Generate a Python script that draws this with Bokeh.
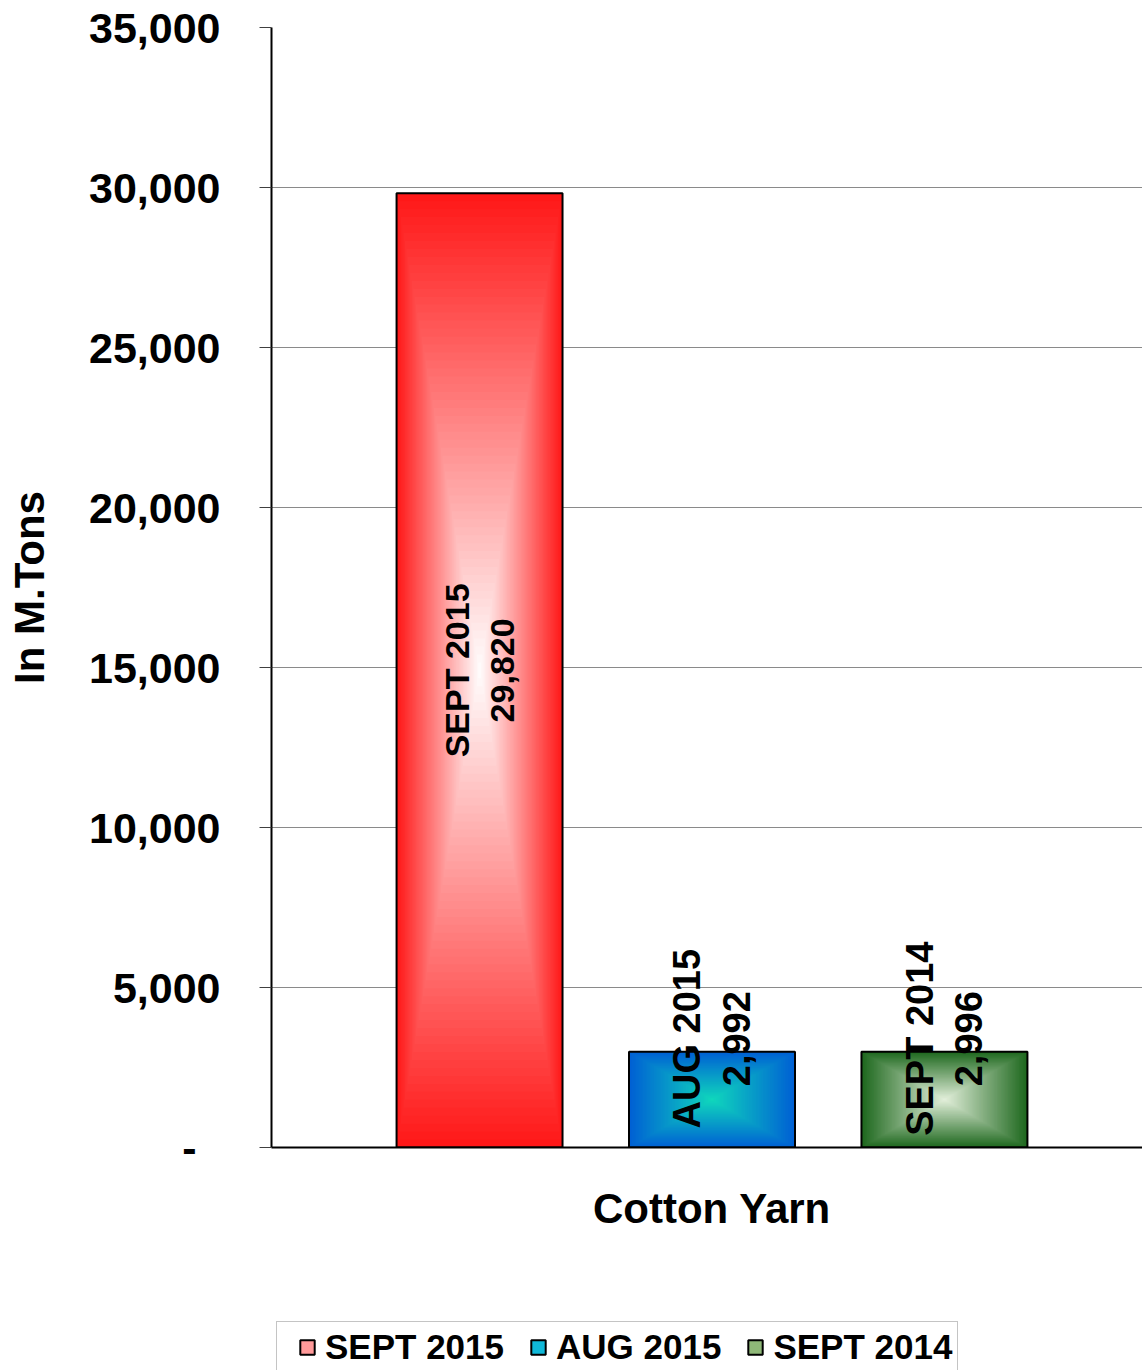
import numpy as np
from bokeh.plotting import figure
from bokeh.layouts import column
from bokeh.models import (Range1d, FixedTicker, NumeralTickFormatter, Legend,
                          LegendItem, ColumnDataSource)
from bokeh.core.properties import value
from bokeh.embed import file_html
from bokeh.resources import INLINE

# ---------------- data ----------------
category = "Cotton Yarn"
series = ["SEPT 2015", "AUG 2015", "SEPT 2014"]
values = [29820, 2992, 2996]
value_labels = ["29,820", "2,992", "2,996"]
y_ticks = [0, 5000, 10000, 15000, 20000, 25000, 30000, 35000]
y_axis_title = "In M.Tons"

# ---------------- style ----------------
edge_colors = [(255, 24, 24), (0, 96, 212), (30, 104, 30)]
center_colors = [(255, 255, 255), (16, 216, 188), (228, 240, 220)]
legend_colors = ["#ff9a9a", "#10b8d8", "#8fb878"]
label_sizes = ["34px", "38px", "38px"]
FONT = "Liberation Sans"
bar_width = 0.714
n_layers = 60

p = figure(width=1142, height=1320, output_backend="svg", toolbar_location=None,
           x_range=Range1d(-1.895, 1.852), y_range=Range1d(0, 35000),
           min_border_left=271, min_border_right=0, min_border_top=27,
           min_border_bottom=173)
p.outline_line_color = None
p.background_fill_color = "white"
p.border_fill_color = "white"

# grid
p.xgrid.grid_line_color = None
p.ygrid.ticker = FixedTicker(ticks=y_ticks)
p.ygrid.grid_line_color = "#8a8a8a"
p.ygrid.grid_line_width = 1.2

# y axis
ya = p.yaxis[0]
ya.ticker = FixedTicker(ticks=y_ticks)
ya.formatter = NumeralTickFormatter(format="0,0")
ya.major_label_overrides = {0: "-\u00a0\u00a0"}
ya.major_label_text_font = FONT
ya.major_label_text_font_style = "bold"
ya.major_label_text_font_size = "43px"
ya.major_label_text_color = "black"
ya.major_label_standoff = 39
ya.major_tick_out = 12
ya.major_tick_in = 0
ya.major_tick_line_color = "#404040"
ya.minor_tick_line_color = None
ya.axis_line_color = "black"
ya.axis_line_width = 2
ya.axis_label = y_axis_title
ya.axis_label_text_font = FONT
ya.axis_label_text_font_style = "bold"
ya.axis_label_text_font_size = "42px"
ya.axis_label_text_color = "black"
ya.axis_label_standoff = 33

# x axis (single category at group position 0)
xa = p.xaxis[0]
xa.ticker = FixedTicker(ticks=[0])
xa.major_label_overrides = {0: category}
xa.major_label_text_font = FONT
xa.major_label_text_font_style = "bold"
xa.major_label_text_font_size = "42px"
xa.major_label_text_color = "black"
xa.major_tick_line_color = None
xa.major_tick_out = 0
xa.major_tick_in = 0
xa.minor_tick_line_color = None
xa.major_label_standoff = 37
xa.axis_line_color = "black"
xa.axis_line_width = 2

# bar positions (dodged around the category)
n = len(series)
xs = [i - (n - 1) / 2 for i in range(n)]

# gradient fill: nested proportional rectangles from edge colour to centre colour
L, R, B, T, C = [], [], [], [], []
for i, v in enumerate(values):
    ec = np.array(edge_colors[i], float)
    cc = np.array(center_colors[i], float)
    for k in range(n_layers):
        t = k / n_layers
        s = 1 - t
        L.append(xs[i] - bar_width / 2 * s)
        R.append(xs[i] + bar_width / 2 * s)
        B.append(v / 2 - v / 2 * s)
        T.append(v / 2 + v / 2 * s)
        col = ec + (cc - ec) * t
        C.append("#%02x%02x%02x" % tuple(int(round(c)) for c in col))
grad = ColumnDataSource(dict(left=L, right=R, bottom=B, top=T, color=C))
p.quad(left="left", right="right", bottom="bottom", top="top", fill_color="color",
       line_color=None, source=grad)

# bar outlines
p.vbar(x=xs, top=values, width=bar_width, bottom=0, fill_color=None,
       line_color="black", line_width=2)

# data labels (rotated, two lines)
lab_src = ColumnDataSource(dict(
    x=xs,
    y=[max(v / 2, 3400) for v in values],
    text=[f"{s}\n{l}" for s, l in zip(series, value_labels)],
    size=label_sizes,
))
p.text(x="x", y="y", text="text", source=lab_src, angle=np.pi / 2,
       text_align="center", text_baseline="middle", text_font=value(FONT),
       text_font_style="bold", text_font_size="size", text_color="black",
       text_line_height=1.17)

# legend strip (separate small figure directly below the chart; frames align)
pl = figure(width=1142, height=50, output_backend="svg", toolbar_location=None,
            x_range=Range1d(0, 1), y_range=Range1d(0, 1),
            min_border_left=0, min_border_right=0, min_border_top=0,
            min_border_bottom=0)
pl.axis.visible = False
pl.grid.visible = False
pl.outline_line_color = None
pl.background_fill_color = "white"
pl.border_fill_color = "white"

items = []
for i, s in enumerate(series):
    # legend proxy: swatch only, no visible mark in the strip
    src = ColumnDataSource(dict(x=[np.nan], y=[np.nan]))
    r = pl.rect(x="x", y="y", width=1, height=1, source=src,
                fill_color=legend_colors[i], line_color="black", line_width=2)
    items.append(LegendItem(label=s, renderers=[r]))
legend = Legend(items=items, orientation="horizontal", location=(5, -3))
legend.title = "\u00a0"
legend.title_location = "left"
legend.title_text_font_size = "6px"
legend.title_standoff = 10
legend.label_text_font = FONT
legend.label_text_font_style = "bold"
legend.label_text_font_size = "35px"
legend.label_text_color = "black"
legend.glyph_width = 18
legend.glyph_height = 18
legend.label_standoff = 9
legend.spacing = 25
legend.padding = 5
legend.margin = 0
legend.border_line_color = "#8a8a8a"
legend.border_line_width = 1.5
legend.background_fill_color = "white"
legend.background_fill_alpha = 1
pl.add_layout(legend, "center")

layout = column(p, pl, spacing=0)
open("out.html", "w").write(file_html(layout, INLINE))
